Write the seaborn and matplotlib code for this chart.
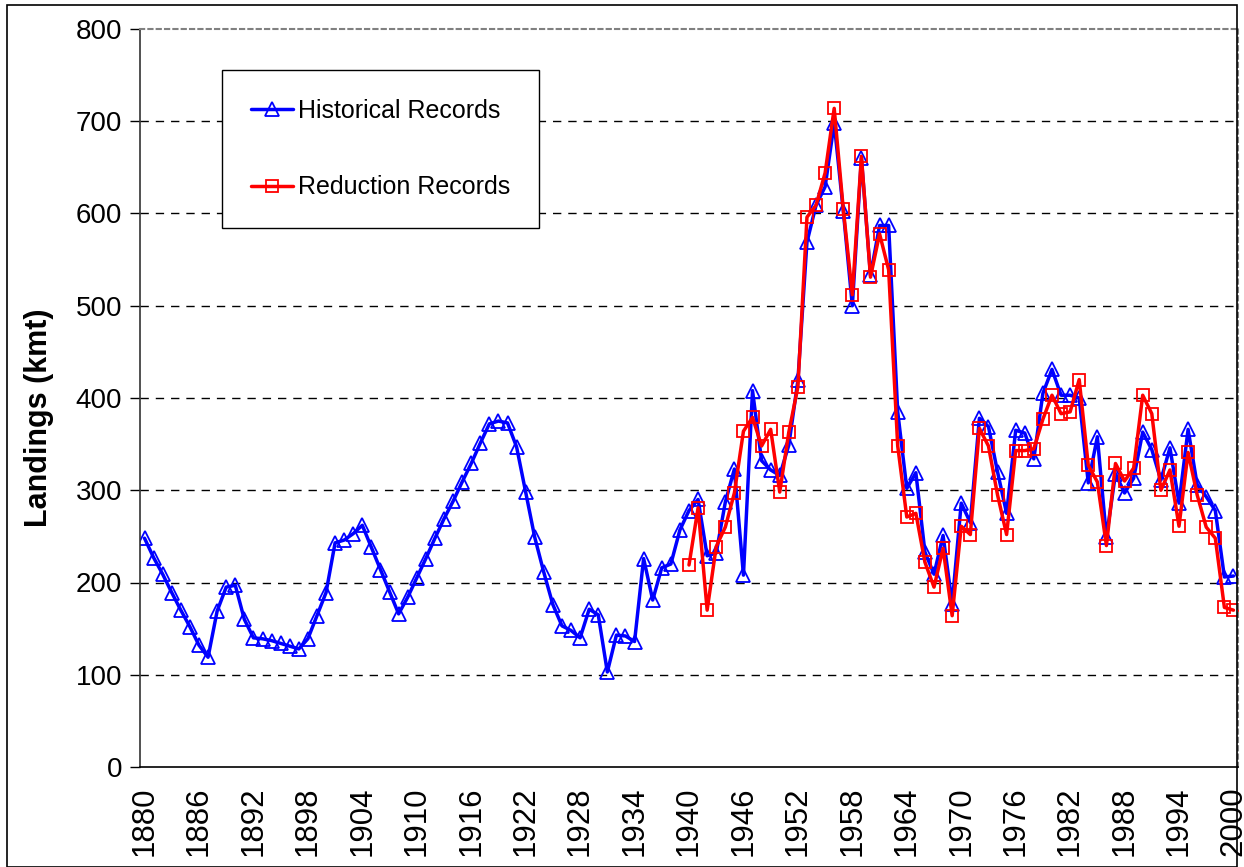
import matplotlib
matplotlib.use("Agg")
import matplotlib.pyplot as plt
import numpy as np
import pandas as pd
import seaborn as sns

# Landings (kmt)
years = list(range(1880, 2001))
historical = [
    248, 227, 209, 189, 170, 152, 132, 119, 169, 195,
    197, 160, 140, 139, 137, 134, 131, 128, 139, 164,
    189, 243, 246, 253, 262, 238, 214, 190, 166, 184,
    205, 226, 248, 269, 288, 309, 329, 351, 372, 375,
    373, 347, 298, 249, 211, 176, 153, 148, 140, 171,
    165, 103, 143, 142, 136, 226, 181, 216, 220, 257,
    278, 290, 229, 232, 287, 323, 208, 408, 332, 322,
    316, 349, 419, 569, 609, 629, 698, 603, 500, 660,
    533, 587, 587, 385, 302, 319, 233, 209, 251, 177,
    286, 265, 378, 369, 320, 275, 365, 362, 334, 405,
    431, 403, 403, 400, 308, 358, 249, 318, 297, 313,
    363, 344, 311, 346, 286, 366, 306, 293, 278, 206,
    207,
]
reduction_years = list(range(1940, 2001))
reduction = [
    219, 281, 170, 239, 260, 297, 364, 379, 348, 366,
    298, 363, 412, 596, 609, 644, 714, 605, 512, 662,
    531, 578, 539, 348, 271, 275, 222, 195, 237, 164,
    261, 252, 367, 348, 295, 252, 343, 343, 345, 377,
    403, 383, 385, 420, 327, 309, 240, 329, 310, 324,
    403, 383, 300, 322, 261, 341, 295, 260, 248, 173,
    170,
]
tick_years = list(range(1880, 2001, 6))

hist_df = pd.DataFrame({"year": years, "landings": historical})
red_df = pd.DataFrame({"year": reduction_years, "landings": reduction})

sns.set_style("white")
plt.rcParams["font.family"] = ["Liberation Sans", "DejaVu Sans"]
plt.rcParams["text.color"] = "black"
plt.rcParams["xtick.color"] = "black"
plt.rcParams["ytick.color"] = "black"
plt.rcParams["axes.labelcolor"] = "black"

fig = plt.figure(figsize=(12.44, 8.67), dpi=100)
ax = fig.add_axes([140 / 1244, 1 - 767 / 867, 1098 / 1244, 738 / 867])

sns.lineplot(data=hist_df, x="year", y="landings", ax=ax, color="#0000ff",
             linewidth=2.5, marker="^", markersize=10, markerfacecolor="none",
             markeredgecolor="#0000ff", markeredgewidth=1.3,
             label="Historical Records")
sns.lineplot(data=red_df, x="year", y="landings", ax=ax, color="#ff0000",
             linewidth=2.5, marker="s", markersize=8.5, markerfacecolor="none",
             markeredgecolor="#ff0000", markeredgewidth=1.3,
             label="Reduction Records")

ax.set_xlim(1879.5, 2000.5)
ax.set_ylim(0, 800)
ax.set_yticks(range(0, 801, 100))
ax.set_xticks(tick_years)
ax.set_xticks(np.arange(1879.5, 2001, 1), minor=True)
ax.set_xticklabels([str(y) for y in tick_years], rotation=90)
ax.tick_params(axis="x", which="major", length=0, labelsize=22.5, pad=14)
ax.tick_params(axis="x", which="minor", length=6, width=1, color="#555555",
               direction="out")
ax.tick_params(axis="y", which="major", length=7, width=1, labelsize=20,
               direction="out", left=True, pad=6)

for v in range(100, 800, 100):
    ax.axhline(v, color="black", linestyle=(0, (6, 5)), linewidth=1, zorder=0)

ax.set_xlabel("")
ax.set_ylabel("Landings (kmt)", fontsize=22, fontweight="bold")
ax.yaxis.set_label_coords(-0.078, 0.473)

for side in ["top", "right"]:
    ax.spines[side].set_color("#808080")
    ax.spines[side].set_linestyle((0, (2, 2)))
    ax.spines[side].set_linewidth(1.5)
ax.spines["left"].set_color("#333333")
ax.spines["left"].set_linewidth(1.2)
ax.spines["bottom"].set_color("black")
ax.spines["bottom"].set_linewidth(1.2)

leg = ax.legend(loc="upper left", bbox_to_anchor=(222 / 1244, 1 - 70 / 867),
                bbox_transform=fig.transFigure, borderaxespad=0,
                fontsize=18, frameon=True, fancybox=False, framealpha=1,
                edgecolor="black", handlelength=1.7, handletextpad=0.2,
                labelspacing=2.1, borderpad=1.15)
leg.get_frame().set_linewidth(1)

# outer chart border
fig.patches.append(plt.Rectangle((7 / 1244, 0), 1230 / 1244, 1 - 5 / 867,
                                 transform=fig.transFigure, fill=False,
                                 edgecolor="black", linewidth=1.2))

fig.savefig("out.png", dpi=100)
plt.close(fig)
